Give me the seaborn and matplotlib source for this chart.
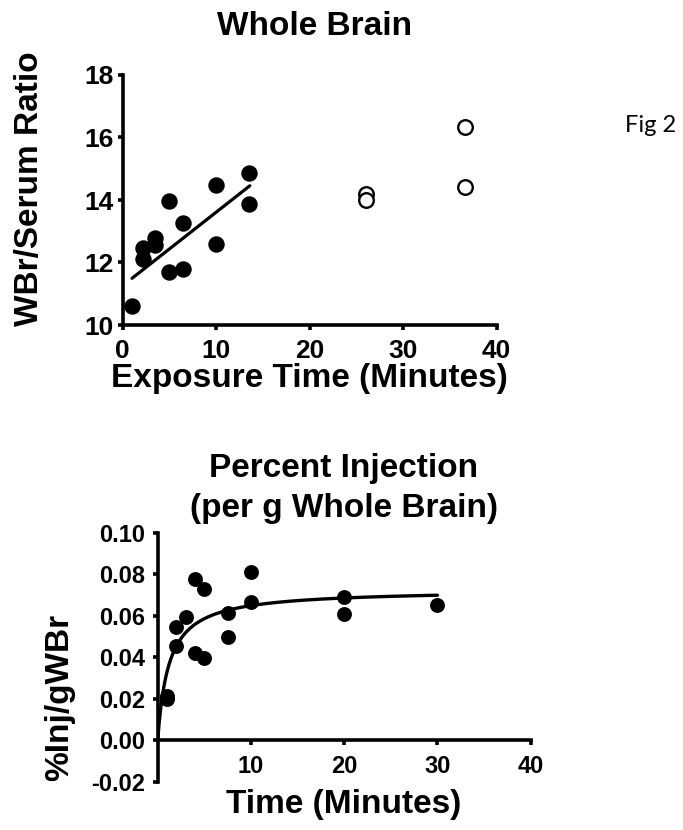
import matplotlib
matplotlib.use("Agg")
import numpy as np
import pandas as pd
import seaborn as sns
import matplotlib.pyplot as plt

# ---------------- data ----------------
# Top panel: Whole Brain (WBr/Serum ratio vs exposure time)
wb_time_fit = [1.0, 2.2, 2.2, 3.5, 3.5, 5.0, 5.0, 6.4, 6.4, 10.0, 10.0, 13.5, 13.5]
wb_ratio_fit = [10.6, 12.1, 12.45, 12.77, 12.56, 13.97, 11.7, 13.27, 11.8, 14.47, 12.58, 14.85, 13.86]
wb_time_excl = [26.0, 26.0, 36.6, 36.6]
wb_ratio_excl = [14.2, 14.0, 16.33, 14.43]
wb_fit_slope = 0.235
wb_fit_intercept = 11.26
wb_fit_range = [1.0, 13.6]
wb_xticks = [0, 10, 20, 30, 40]
wb_yticks = [10, 12, 14, 16, 18]

# Bottom panel: Percent injection per g whole brain
inj_time = [1, 1, 2, 2, 3, 4, 4, 5, 5, 7.5, 7.5, 10, 10, 20, 20, 30]
inj_pct = [0.0196, 0.0212, 0.0453, 0.0546, 0.0594, 0.0774, 0.0418, 0.0726, 0.0397,
           0.0614, 0.0495, 0.0808, 0.0663, 0.0690, 0.0607, 0.0650]
inj_vmax = 0.0726
inj_km = 1.205
inj_fit_range = [0.0, 30.0]
inj_xticks = [10, 20, 30, 40]
inj_yticks = [-0.02, 0.0, 0.02, 0.04, 0.06, 0.08, 0.10]
inj_yticklabels = ["-0.02", "0.00", "0.02", "0.04", "0.06", "0.08", "0.10"]

# ---------------- style ----------------
sns.set_theme(style="ticks")
plt.rcParams["font.family"] = ["Liberation Sans", "DejaVu Sans"]
plt.rcParams["font.weight"] = "bold"
plt.rcParams["axes.unicode_minus"] = False
plt.rcParams["text.color"] = "black"
plt.rcParams["axes.labelcolor"] = "black"
plt.rcParams["xtick.color"] = "black"
plt.rcParams["ytick.color"] = "black"

W, H = 683, 830
fig = plt.figure(figsize=(W / 100, H / 100), dpi=100)


def fx(px):
    return px / W


def fy(py):
    return 1 - py / H


SPINE_W = 2.6
TICK_LEN = 3.6

# ---------------- top panel ----------------
ax1 = fig.add_axes([fx(122.7), fy(325), (496.7 - 122.7) / W, 250 / H])
fit_df = pd.DataFrame({"t": wb_time_fit, "r": wb_ratio_fit})
excl_df = pd.DataFrame({"t": wb_time_excl, "r": wb_ratio_excl})
sns.scatterplot(data=fit_df, x="t", y="r", ax=ax1, color="black", s=140,
                linewidth=0, clip_on=False, zorder=3)
sns.scatterplot(data=excl_df, x="t", y="r", ax=ax1, color="white", edgecolor="black",
                s=110, linewidth=1.7, clip_on=False, zorder=3)
xs = np.array(wb_fit_range)
sns.lineplot(x=xs, y=wb_fit_slope * xs + wb_fit_intercept, ax=ax1, color="black",
             linewidth=2.3, zorder=2)

ax1.set_xlim(0, 40)
ax1.set_ylim(10, 18)
ax1.set_xticks(wb_xticks)
ax1.set_yticks(wb_yticks)
ax1.set_xlabel("")
ax1.set_ylabel("")
for s in ["top", "right"]:
    ax1.spines[s].set_visible(False)
for s in ["left", "bottom"]:
    ax1.spines[s].set_linewidth(SPINE_W)
    ax1.spines[s].set_color("black")
ax1.tick_params(axis="both", width=SPINE_W, length=TICK_LEN, labelsize=19,
                color="black", labelcolor="black")
ax1.tick_params(axis="x", pad=6.5)
ax1.tick_params(axis="y", pad=3.2)

fig.text(fx(315), fy(35), "Whole Brain", ha="center", va="baseline",
         fontsize=24, fontweight="bold", color="black")
fig.text(fx(309.7), fy(387), "Exposure Time (Minutes)", ha="center", va="baseline",
         fontsize=24, fontweight="bold", color="black")
fig.text(fx(30), fy(189), "WBr/Serum Ratio", ha="center", va="center",
         rotation=90, fontsize=24, fontweight="bold", color="black")
fig.text(fx(625), fy(132), "Fig 2", ha="left", va="baseline", fontsize=17,
         fontweight="normal", color="black", family=["Lato", "DejaVu Sans"])

# ---------------- bottom panel ----------------
ax2 = fig.add_axes([fx(157.7), fy(781.7), 373 / W, 249.2 / H])
inj_df = pd.DataFrame({"t": inj_time, "p": inj_pct})
sns.scatterplot(data=inj_df, x="t", y="p", ax=ax2, color="black", s=115,
                linewidth=0, clip_on=False, zorder=3)
tt = np.linspace(inj_fit_range[0], inj_fit_range[1], 400)
sns.lineplot(x=tt, y=inj_vmax * tt / (inj_km + tt), ax=ax2, color="black",
             linewidth=2.4, zorder=2)

ax2.set_xlim(0, 40)
ax2.set_ylim(-0.02, 0.10)
ax2.set_xticks(inj_xticks)
ax2.set_yticks(inj_yticks)
ax2.set_yticklabels(inj_yticklabels)
ax2.set_xlabel("")
ax2.set_ylabel("")
for s in ["top", "right"]:
    ax2.spines[s].set_visible(False)
ax2.spines["bottom"].set_position(("data", 0))
for s in ["left", "bottom"]:
    ax2.spines[s].set_linewidth(SPINE_W)
    ax2.spines[s].set_color("black")
ax2.tick_params(axis="both", width=SPINE_W, length=TICK_LEN, labelsize=17,
                color="black", labelcolor="black")
ax2.tick_params(axis="x", pad=7)
ax2.tick_params(axis="y", pad=5.5)

fig.text(fx(344), fy(477), "Percent Injection", ha="center", va="baseline",
         fontsize=24, fontweight="bold", color="black")
fig.text(fx(344), fy(517), "(per g Whole Brain)", ha="center", va="baseline",
         fontsize=24, fontweight="bold", color="black")
fig.text(fx(343.5), fy(813), "Time (Minutes)", ha="center", va="baseline",
         fontsize=24, fontweight="bold", color="black")
fig.text(fx(60), fy(697), "%Inj/gWBr", ha="center", va="center",
         rotation=90, fontsize=24, fontweight="bold", color="black")

fig.savefig("out.png", dpi=100, facecolor="white")
